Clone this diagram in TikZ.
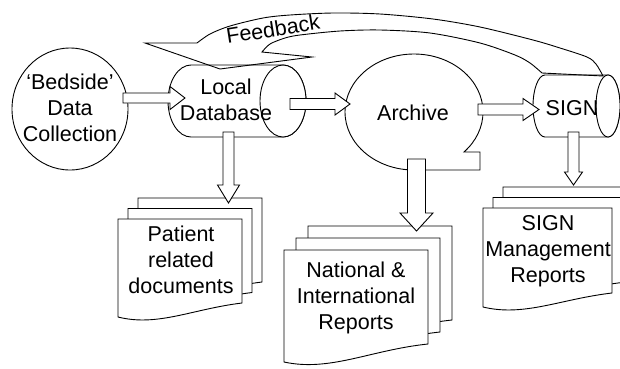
\documentclass[tikz,border=0pt]{standalone}
\usepackage{fontspec}
\setmainfont{Liberation Sans}
\usetikzlibrary{shapes.geometric}
% document page: x0, y0 (top-left, pixel coords), width, right height, left height
\newcommand{\docpage}[5]{%
  \filldraw[shp] (#1,-#2) -- ({#1+#3},-#2) -- ({#1+#3},{-(#2+#4)})
    .. controls ({#1+0.6*#3},{-(#2+#4+6)}) and ({#1+0.32*#3},{-(#2+#5+10)}) .. (#1,{-(#2+#5)}) -- cycle;}
% horizontal block arrow: shaft start x, head start x, tip x, centre y, shaft half width, head half width
\newcommand{\hblock}[6]{%
  \filldraw[shp] (#1,{-#4+#5}) -- (#2,{-#4+#5}) -- (#2,{-#4+#6}) -- (#3,-#4)
    -- (#2,{-#4-#6}) -- (#2,{-#4-#5}) -- (#1,{-#4-#5}) -- cycle;}
% vertical block arrow: centre x, shaft start y, head start y, tip y, shaft half width, head half width
\newcommand{\vblock}[6]{%
  \filldraw[shp] ({#1-#5},-#2) -- ({#1+#5},-#2) -- ({#1+#5},-#3) -- ({#1+#6},-#3)
    -- (#1,-#4) -- ({#1-#6},-#3) -- ({#1-#5},-#3) -- cycle;}
\begin{document}
\begin{tikzpicture}[x=1pt,y=1pt,
  shp/.style={draw=black, fill=white, line width=0.9pt},
  lbl/.style={font=\fontsize{21.5}{26}\selectfont, align=center, inner sep=0pt}]
\useasboundingbox[fill=white] (0,0) rectangle (620,-368);

% Bedside data collection
\node[shp, ellipse, minimum width=116pt, minimum height=122pt, inner sep=0pt] (bedside) at (70,-109) {};

% Local database cylinder
\filldraw[shp] (191,-65) -- (283,-65) arc[start angle=90, end angle=-90, x radius=23, y radius=36]
  -- (191,-137) arc[start angle=270, end angle=90, x radius=23, y radius=36] -- cycle;
\draw[shp] (283,-101) ellipse[x radius=23, y radius=36];

% Archive (sequential storage)
\filldraw[shp] (414,-170) arc[start angle=270, end angle=-43.6, x radius=69, y radius=58]
  -- (480,-152) -- (480,-170) -- cycle;

% SIGN cylinder
\filldraw[shp] (545,-75) -- (608,-75) arc[start angle=90, end angle=-90, x radius=12, y radius=31]
  -- (545,-137) arc[start angle=270, end angle=90, x radius=12, y radius=31] -- cycle;
\draw[shp] (608,-106) ellipse[x radius=12, y radius=31];

% document stacks
\docpage{138}{198}{124}{84}{98}
\docpage{128}{208.5}{124}{84}{98}
\docpage{118}{219}{124}{84}{98}

\docpage{308}{226}{144}{94}{112}
\docpage{296}{238}{144}{94}{112}
\docpage{284}{250}{144}{94}{112}

\docpage{503}{187}{129}{85}{99}
\docpage{493}{197.5}{129}{85}{99}
\docpage{483}{208}{129}{85}{99}

% block arrows
\hblock{123}{170}{185}{98}{5}{11.5}
\hblock{290}{335}{350}{104}{5.5}{11}
\hblock{478}{523}{539}{109.5}{5.5}{11}
\vblock{228.5}{132}{185}{203}{5.5}{11}
\vblock{416.5}{159}{213}{231}{9}{16.5}
\vblock{573.5}{132}{172}{185}{5.5}{9}

% labels
\node[lbl] (tbed) at (70,-110) {\strut ‘Bedside’\\Data\\Collection\strut};
\node[lbl] (tlocal) at (226,-102) {\strut Local\\Database\strut};
\node[lbl] (tarch) at (413,-113) {Archive};
\node[lbl] (tsign) at (572,-108) {SIGN};
\node[lbl] (tpat) at (181,-262) {\strut Patient\\related\\documents\strut};
\node[lbl] (tnat) at (356,-298) {\strut National \&\\International\\Reports\strut};
\node[lbl] (tsm) at (548,-251) {\strut SIGN\\Management\\Reports\strut};

% feedback arrow
\draw[line width=0.9pt] plot[smooth] coordinates {(603,-76) (596,-64) (587,-57) (560,-48) (533,-40)
   (480,-27) (433,-19) (380,-14) (333,-13) (290,-15) (263,-18) (230,-26) (210,-34) (197,-43)}
  -- (145,-43) -- (220,-69) -- (312,-57)
  -- plot[smooth] coordinates {(262,-52) (270,-44) (285,-38) (300,-35) (340,-31) (380,-30)
   (430,-33) (480,-43) (515,-55) (530,-63) (542,-73)} -- cycle;
\node[lbl, rotate=9] (tfb) at (273,-29) {Feedback};
\end{tikzpicture}
\end{document}
